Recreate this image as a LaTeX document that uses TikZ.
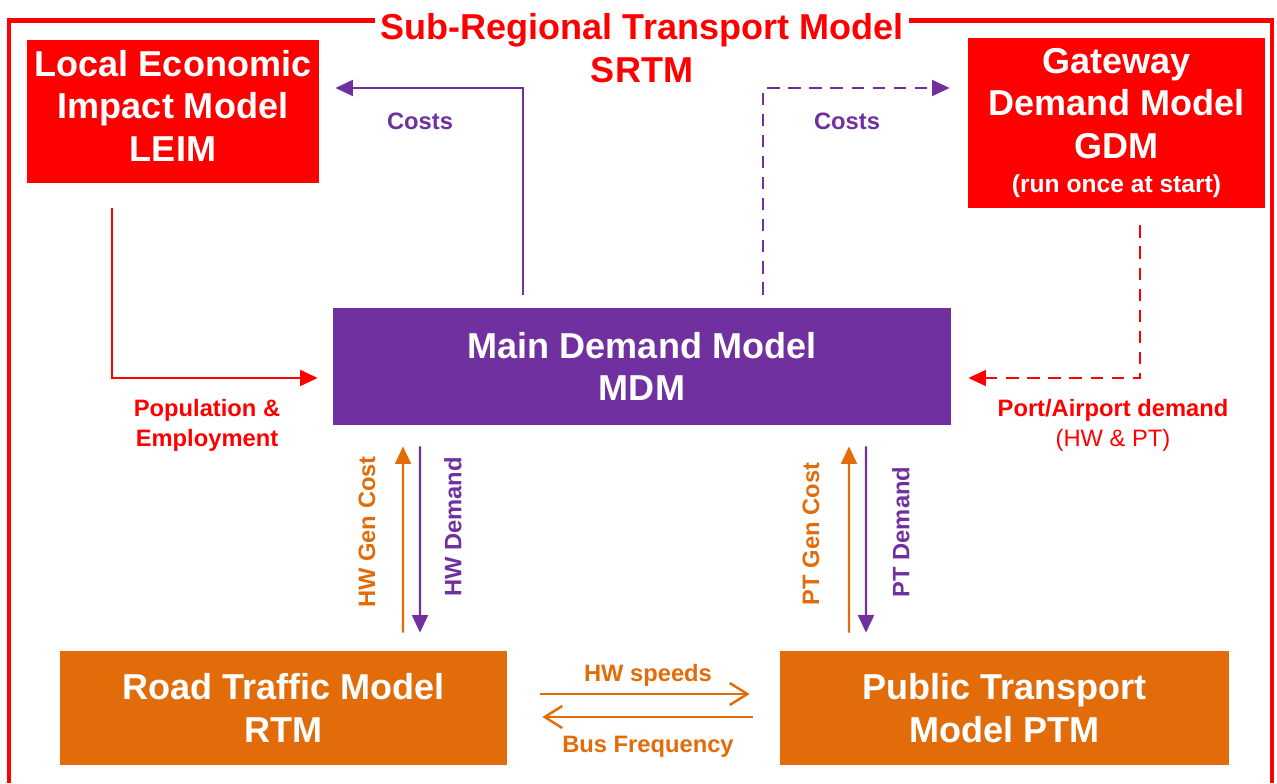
\documentclass[tikz,border=0pt]{standalone}
\usepackage{fontspec}
\setmainfont{Liberation Sans}
\usetikzlibrary{positioning,arrows.meta}

\definecolor{srtmred}{HTML}{FF0000}
\definecolor{srtmpurple}{HTML}{7030A0}
\definecolor{srtmorange}{HTML}{E36C0A}

\tikzset{
  model/.style={text=white, align=center, inner sep=0pt,
                font=\bfseries\fontsize{20.5}{24.4}\selectfont},
  lbl/.style={font=\bfseries\fontsize{13.5}{17}\selectfont, align=center},
  link/.style={line width=1.4pt},
  tri/.style={-{Triangle[length=10pt,width=9pt]}},
  barb/.style={-{Straight Barb[length=10pt,width=12.5pt,line width=1.4pt]}},
  dashline/.style={dash pattern=on 7pt off 5pt},
  frame/.style={srtmred, line width=2.8pt}
}

\begin{document}
\begin{tikzpicture}
\useasboundingbox (0,0) rectangle (25.54,15.66);

% Title and frame
\node[text=srtmred, font=\bfseries\fontsize{20.5}{24}\selectfont] (srtm) at (12.84,15.05) {Sub-Regional Transport Model};
\node[text=srtmred, font=\bfseries\fontsize{20.5}{24}\selectfont] (srtmabbr) at (12.84,14.26) {SRTM};
\draw[frame] ([yshift=0.2cm]srtm.west) -| (0.18,0);
\draw[frame] ([yshift=0.2cm]srtm.east) -| (25.44,0);

% Models
\node[model, fill=srtmred, minimum width=5.84cm, minimum height=2.86cm] (leim) at (3.46,13.43) {Local Economic\\Impact Model\\LEIM\\[-18pt]\mbox{}};
\node[model, fill=srtmred, minimum width=5.94cm, minimum height=3.4cm] (gdm) at (22.33,13.2) {Gateway\\Demand Model\\GDM\\[-5pt]{\fontsize{14}{16}\selectfont (run once at start)}};
\node[model, fill=srtmpurple, minimum width=12.36cm, minimum height=2.34cm] (mdm) at (12.84,8.33) {Main Demand Model\\MDM};
\node[model, fill=srtmorange, minimum width=8.94cm, minimum height=2.28cm] (rtm) at (5.67,1.5) {Road Traffic Model\\RTM};
\node[model, fill=srtmorange, minimum width=8.98cm, minimum height=2.28cm] (ptm) at (20.09,1.5) {Public Transport\\Model PTM};

% Links to and from MDM
\draw[link, tri, srtmpurple] ([xshift=-2.38cm,yshift=0.26cm]mdm.north) |- ([xshift=0.32cm,yshift=0.47cm]leim.east);
\draw[link, tri, srtmpurple, dashline] ([xshift=2.42cm,yshift=0.26cm]mdm.north) |- ([xshift=-0.36cm,yshift=0.7cm]gdm.west);
\draw[link, tri, srtmred] ([xshift=-1.22cm,yshift=-0.5cm]leim.south) |- ([xshift=-0.3cm,yshift=-0.23cm]mdm.west);
\draw[link, tri, srtmred, dashline] ([xshift=0.47cm,yshift=-0.34cm]gdm.south) |- ([xshift=0.34cm,yshift=-0.23cm]mdm.east);

% Road and PT loops
\draw[link, tri, srtmorange] ([xshift=2.39cm,yshift=0.36cm]rtm.north) -- ([xshift=-4.78cm,yshift=-0.42cm]mdm.south);
\draw[link, tri, srtmpurple] ([xshift=-4.44cm,yshift=-0.42cm]mdm.south) -- ([xshift=2.73cm,yshift=0.36cm]rtm.north);
\draw[link, tri, srtmorange] ([xshift=-3.11cm,yshift=0.36cm]ptm.north) -- ([xshift=4.14cm,yshift=-0.42cm]mdm.south);
\draw[link, tri, srtmpurple] ([xshift=4.48cm,yshift=-0.42cm]mdm.south) -- ([xshift=-2.77cm,yshift=0.36cm]ptm.north);

\draw[link, barb, srtmorange] ([xshift=0.66cm,yshift=0.28cm]rtm.east) -- ([xshift=-0.6cm,yshift=0.28cm]ptm.west);
\draw[link, barb, srtmorange] ([xshift=-0.54cm,yshift=-0.18cm]ptm.west) -- ([xshift=0.7cm,yshift=-0.18cm]rtm.east);

% Labels
\node[lbl, text=srtmpurple] (costsleim) at (8.4,13.24) {Costs};
\node[lbl, text=srtmpurple] (costsgdm) at (16.94,13.24) {Costs};
\node[lbl, text=srtmred] (poplbl) at (4.14,7.16) {Population \&\\Employment};
\node[lbl, text=srtmred] (portlbl) at (22.26,7.16) {Port/Airport demand\\{\mdseries (HW \& PT)}};
\node[lbl, text=srtmorange, rotate=90] (hwcost) at (7.34,5.02) {HW Gen Cost};
\node[lbl, text=srtmpurple, rotate=90] (hwdem) at (9.06,5.12) {HW Demand};
\node[lbl, text=srtmorange, rotate=90] (ptcost) at (16.22,4.98) {PT Gen Cost};
\node[lbl, text=srtmpurple, rotate=90] (ptdem) at (18.02,5.02) {PT Demand};
\node[lbl, text=srtmorange] (hwspeed) at (12.96,2.16) {HW speeds};
\node[lbl, text=srtmorange] (busfreq) at (12.96,0.72) {Bus Frequency};

\end{tikzpicture}
\end{document}
